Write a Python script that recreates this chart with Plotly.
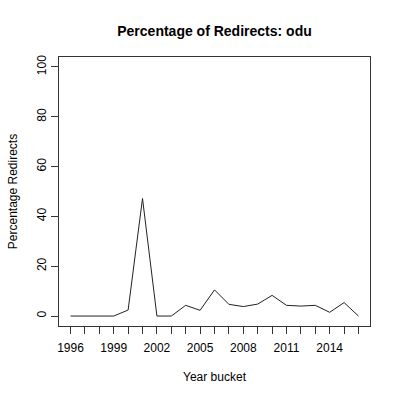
import plotly.graph_objects as go

years = list(range(1996, 2017))
redirect_pct = [0, 0, 0, 0, 2.4, 47.2, 0, 0, 4.3, 2.3, 10.5, 4.7, 3.8, 4.8, 8.3, 4.3, 4.0, 4.3, 1.5, 5.4, 0]
x_labels = ["1996", "1999", "2002", "2005", "2008", "2011", "2014"]
y_ticks = [0, 20, 40, 60, 80, 100]

ticktext = [str(y) if str(y) in x_labels else "" for y in years]

fig = go.Figure()
fig.add_trace(go.Scatter(x=years, y=redirect_pct, mode="lines",
                         line=dict(color="#222222", width=1), showlegend=False))

font = "Liberation Sans, Arial, sans-serif"
fig.update_layout(
    width=400, height=400,
    margin=dict(l=59, r=30, t=57, b=74),
    plot_bgcolor="white", paper_bgcolor="white",
    font=dict(family=font, size=12, color="black"),
    title=dict(text="<b>Percentage of Redirects: odu</b>", x=214.5/400, xanchor="center",
               y=1 - 31/400, yanchor="middle", font=dict(size=14, family=font)),
    xaxis=dict(range=[1995.2, 2016.8], tickvals=years, ticktext=ticktext,
               ticks="outside", ticklen=7, tickcolor="#333", tickwidth=1,
               ticklabelstandoff=4,
               showline=True, mirror=True, linecolor="#333", linewidth=1,
               showgrid=False, zeroline=False, tickangle=0,
               title=dict(text="Year bucket", standoff=18, font=dict(size=12))),
    yaxis=dict(range=[-4, 104], tickvals=y_ticks, ticks="outside", ticklen=7,
               tickcolor="#333", tickwidth=1,
               showline=True, mirror=True, linecolor="#333", linewidth=1,
               showgrid=False, zeroline=False, tickangle=-90,
               title=dict(text="Percentage Redirects", standoff=15, font=dict(size=12))),
)

fig.write_html("out.html")
